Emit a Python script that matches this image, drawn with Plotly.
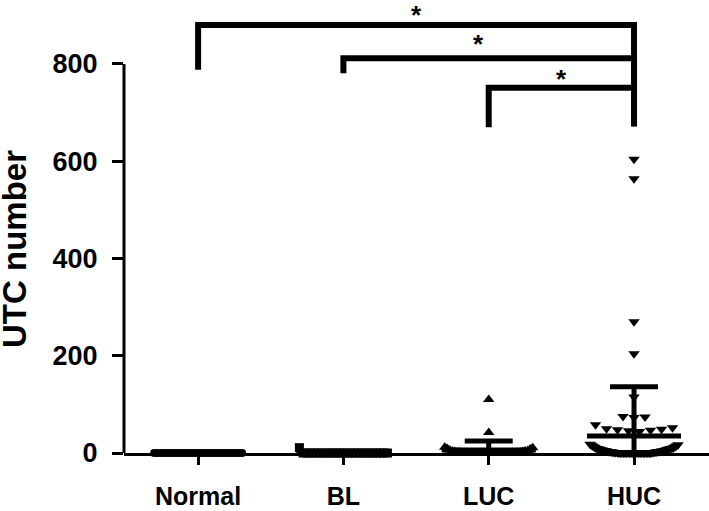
import plotly.graph_objects as go
import numpy as np

# ---------------- data ----------------
groups = ["Normal", "BL", "LUC", "HUC"]

normal_vals = [0, 0, 0, 0, 0, 0, 0, 0, 0, 0, 0, 0, 0, 0, 0,
               0, 0, 0, 0, 0, 0, 0, 0, 0, 0, 0, 0, 0, 0, 0]
bl_vals = [11, 0, 0, 0, 0, 0, 0, 0, 0, 0, 0, 0,
           0, 0, 0, 0, 0, 0, 0, 0, 0, 0, 0, 0, 0]
luc_vals = [110, 42, 12, 11, 9, 8, 6, 5, 4, 4, 3, 3, 2, 2, 2, 1, 1, 1, 1, 1,
            0, 0, 0, 0, 0, 0, 0, 0, 0, 0, 0, 0, 0, 0, 0, 0, 0, 0]
huc_vals = [604, 564, 270, 204, 115, 75, 74, 73,
            58, 52, 50, 49, 48, 47, 46, 44,
            18, 17, 16, 15, 14, 13, 12, 11, 10, 10, 9, 9, 8, 8, 7, 7, 6, 6,
            5, 5, 5, 4, 4, 4, 3, 3, 3, 3, 2, 2, 2, 2, 1, 1, 1, 1, 1,
            0, 0, 0, 0, 0, 0, 0, 0, 0, 0, 0, 0, 0, 0, 0, 0, 0, 0, 0, 0, 0, 0]

y_ticks = [0, 200, 400, 600, 800]
y_title = "UTC number"

# significance comparisons: (left group, right group, label)
comparisons = [(0, 3, "*"), (1, 3, "*"), (2, 3, "*")]

# ---------------- layout / style constants ----------------
W, H = 709, 511
M_L, M_R, M_T, M_B = 124, 0, 0, 58
X_RANGE = [-0.51, 3.516]
Y_RANGE = [0, 931.6]
px_per_x = (W - M_L - M_R) / (X_RANGE[1] - X_RANGE[0])
FONT = "Liberation Sans, Arial, Helvetica, sans-serif"

group_style = [
    dict(symbol="circle", size=8, step=11),
    dict(symbol="square", size=9, step=11),
    dict(symbol="triangle-up", size=10, step=11),
    dict(symbol="triangle-down", size=10, step=11),
]
BIN_UNITS = 20        # values closer than this share one swarm row
MAX_HALF_PX = 44      # widest spread of a swarm row
MEAN_HALF_PX = 47     # half width of the mean line
CAP_HALF_PX = 24      # half width of the SD cap

# bracket geometry (value levels)
bracket_levels = [880, 812, 751]
bracket_left_bottom = [788, 781, 670]
bracket_right_bottom = 672
star_y = [None, 842, 770]   # first star is pinned to the top edge
star_x = [1.5, 1.93, 2.5]


def swarm(values, center, step_px):
    """Simple column-scatter layout: rows of similar values spread around the
    group centre, smallest values in the middle."""
    vals = sorted(values)
    rows = []
    for v in vals:
        if rows and v - rows[-1][0] < BIN_UNITS:
            rows[-1].append(v)
        else:
            rows.append([v])
    xs, ys = [], []
    for row in rows:
        n = len(row)
        step = step_px if n <= 1 else min(step_px, 2 * MAX_HALF_PX / (n - 1))
        slots = [(k - (n - 1) / 2) * step for k in range(n)]
        slots = sorted(slots, key=lambda s: (abs(s), -s))
        for v, s in zip(row, slots):
            xs.append(center + s / px_per_x)
            ys.append(v)
    return xs, ys


fig = go.Figure()
all_vals = [normal_vals, bl_vals, luc_vals, huc_vals]

for i, (vals, st) in enumerate(zip(all_vals, group_style)):
    xs, ys = swarm(vals, i, st["step"])
    fig.add_trace(go.Scatter(
        x=xs, y=ys, mode="markers", cliponaxis=False, showlegend=False,
        marker=dict(symbol=st["symbol"], size=st["size"], color="black",
                    line=dict(width=0)),
        hoverinfo="y"))

for i, vals in enumerate(all_vals):
    arr = np.array(vals, dtype=float)
    mean = arr.mean()
    sd = arr.std(ddof=1)
    hw = MEAN_HALF_PX / px_per_x
    fig.add_trace(go.Scatter(
        x=[i - hw, i + hw], y=[mean, mean], mode="lines", showlegend=False,
        line=dict(color="black", width=5), hoverinfo="skip"))
    if sd > 1:
        fig.add_trace(go.Scatter(
            x=[i], y=[mean], mode="markers", showlegend=False,
            marker=dict(size=1, color="rgba(0,0,0,0)"),
            error_y=dict(type="data", symmetric=False, array=[sd],
                         arrayminus=[min(sd, mean)], color="black",
                         thickness=5, width=CAP_HALF_PX),
            hoverinfo="skip"))

star_font = dict(family=FONT, size=26, color="black", weight="bold")
for k, (a, b, lab) in enumerate(comparisons):
    lvl = bracket_levels[k]
    fig.add_trace(go.Scatter(
        x=[a, a, b, b], y=[bracket_left_bottom[k], lvl, lvl, bracket_right_bottom],
        mode="lines", showlegend=False, cliponaxis=False,
        line=dict(color="black", width=6), hoverinfo="skip"))
    if star_y[k] is None:
        fig.add_annotation(x=star_x[k], yref="paper", y=1, text=lab,
                           showarrow=False, xanchor="center", yanchor="top",
                           yshift=2, font=star_font)
    else:
        fig.add_annotation(x=star_x[k], y=star_y[k], text=lab, showarrow=False,
                           xanchor="center", yanchor="middle", font=star_font)

# y axis line only spans 0..800
fig.add_shape(type="line", xref="paper", x0=0, x1=0, yref="y",
              y0=y_ticks[0], y1=y_ticks[-1], line=dict(color="black", width=3))

fig.add_annotation(xref="paper", yref="paper", x=(15 - M_L) / (W - M_L - M_R),
                   y=(H - M_B - 249) / (H - M_B - M_T), text=y_title,
                   textangle=-90, showarrow=False, xanchor="center", yanchor="middle",
                   borderpad=0,
                   font=dict(family=FONT, size=33, color="black", weight="bold"))

fig.update_layout(
    width=W, height=H,
    margin=dict(l=M_L, r=M_R, t=M_T, b=M_B, autoexpand=False),
    paper_bgcolor="white", plot_bgcolor="white",
    showlegend=False,
    xaxis=dict(range=X_RANGE, tickvals=[0, 1, 2, 3], ticktext=groups,
               showline=True, linecolor="black", linewidth=3,
               ticks="outside", ticklen=9, tickwidth=3, tickcolor="black",
               showgrid=False, zeroline=False, ticklabelstandoff=10,
               automargin=False,
               tickfont=dict(family=FONT, size=25, color="black", weight="bold")),
    yaxis=dict(range=Y_RANGE, tickvals=y_ticks,
               showline=False, ticks="outside", ticklen=11, tickwidth=3,
               tickcolor="black", showgrid=False, zeroline=False,
               ticklabelstandoff=9, automargin=False,
               tickfont=dict(family=FONT, size=27, color="black", weight="bold")),
)

fig.write_html("out.html", config={"displayModeBar": False},
               post_script="document.body.style.margin='0';"
                           "document.body.style.overflow='hidden';")
